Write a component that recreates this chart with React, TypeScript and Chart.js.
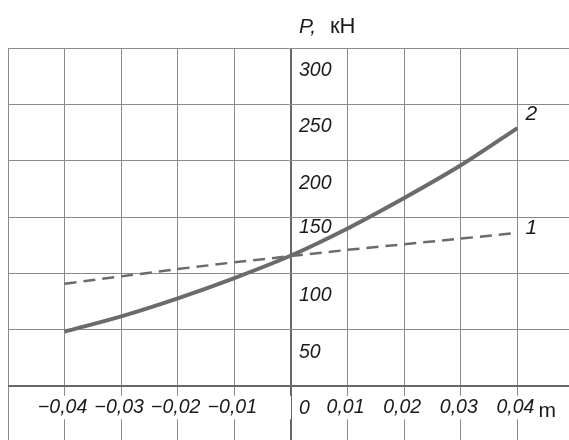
import React, { useEffect, useRef } from "react";
import { Chart, registerables } from "chart.js";

Chart.register(...registerables);

// ---- data ----
const xValues = [-0.04, -0.03, -0.02, -0.01, 0, 0.01, 0.02, 0.03, 0.04];
const series1 = [91, 97.5, 104, 110, 115.5, 121, 126, 131, 136];
const series2 = [48.5, 62, 78, 96, 116, 140, 167, 196, 229];
const seriesLabels = ["1", "2"];
const xTickValues = [-0.05, -0.04, -0.03, -0.02, -0.01, 0, 0.01, 0.02, 0.03, 0.04];
const xTickLabels = ["", "−0,04", "−0,03", "−0,02", "−0,01", "", "0,01", "0,02", "0,03", "0,04"];
const yTickValues = [0, 50, 100, 150, 200, 250, 300];
const yTickLabels: (string | string[])[] = ["0", "50", "100", ["150", ""], "200", "250", "300"];
const titleSymbol = "P,";
const titleUnit = "кН";
const xUnit = "m";

const FAMILY = '"Liberation Sans", Arial, sans-serif';
const TEXT = "#1a1a1a";
const GRID = "#8a8a8a";
const AXIS = "#676767";
const LINE = "#6b6b6b";
const TICK_SIZE = 19.5;

export default function App() {
  const ref = useRef<HTMLCanvasElement>(null);

  useEffect(() => {
    const canvas = ref.current;
    if (!canvas) return;

    const textPlugin = {
      id: "annotTexts",
      afterDraw(chart: any) {
        const ctx = chart.ctx;
        const xs = chart.scales.x;
        const ys = chart.scales.y;
        const x0 = xs.getPixelForValue(0);
        const y0 = ys.getPixelForValue(0);
        const top = chart.chartArea.top;
        ctx.save();
        ctx.fillStyle = TEXT;
        ctx.textAlign = "left";
        ctx.textBaseline = "alphabetic";
        ctx.font = `italic 21px ${FAMILY}`;
        ctx.fillText(titleSymbol, x0 + 8, top - 15);
        ctx.font = `22px ${FAMILY}`;
        ctx.fillText(titleUnit, x0 + 39, top - 15);
        ctx.font = `21px ${FAMILY}`;
        ctx.fillText(xUnit, xs.getPixelForValue(0.04) + 21, y0 + 31);
        ctx.font = `italic 21px ${FAMILY}`;
        ctx.textAlign = "center";
        ctx.textBaseline = "middle";
        const dys = [-5, -13.5];
        chart.data.datasets.forEach((_: any, i: number) => {
          const meta = chart.getDatasetMeta(i);
          const p = meta.data[meta.data.length - 1];
          ctx.fillText(seriesLabels[i], p.x + 14, p.y + dys[i]);
        });
        ctx.restore();
      },
    };

    const chart = new Chart(canvas, {
      type: "line",
      data: {
        datasets: [
          {
            label: seriesLabels[0],
            data: xValues.map((x, i) => ({ x, y: series1[i] })),
            borderColor: LINE,
            borderWidth: 2.5,
            borderDash: [12, 7],
            pointRadius: 0,
            tension: 0,
            fill: false,
          },
          {
            label: seriesLabels[1],
            data: xValues.map((x, i) => ({ x, y: series2[i] })),
            borderColor: LINE,
            borderWidth: 4,
            pointRadius: 0,
            cubicInterpolationMode: "monotone",
            fill: false,
          },
        ],
      },
      options: {
        animation: false,
        responsive: true,
        maintainAspectRatio: false,
        layout: { padding: { left: 8, right: 0, top: 48, bottom: 0 } },
        plugins: {
          legend: { display: false },
          tooltip: { enabled: false },
          title: { display: false },
        },
        scales: {
          x: {
            type: "linear",
            position: { y: 0 } as any,
            min: -0.05,
            max: 0.04912,
            afterBuildTicks: (s: any) => {
              s.ticks = xTickValues.map((v) => ({ value: v }));
            },
            afterFit: (s: any) => {
              s.paddingLeft = 0;
              s.paddingRight = 0;
            },
            grid: {
              drawTicks: false,
              color: (c: any) => (c.tick && c.tick.value === 0 ? AXIS : GRID),
              lineWidth: (c: any) => (c.tick && c.tick.value === 0 ? 2 : 1),
            },
            border: { display: false },
            ticks: {
              autoSkip: false,
              maxRotation: 0,
              padding: 9.5,
              labelOffset: -2,
              color: TEXT,
              font: { family: FAMILY, size: TICK_SIZE, style: "italic" },
              showLabelBackdrop: true,
              backdropColor: "#ffffff",
              backdropPadding: { x: 2, y: 0 },
              callback: (_v: any, i: number) => xTickLabels[i],
            },
          },
          y: {
            type: "linear",
            position: "left",
            min: -47.6,
            max: 300,
            afterBuildTicks: (s: any) => {
              s.ticks = yTickValues.map((v) => ({ value: v }));
            },
            afterFit: (s: any) => {
              s.width = 0;
              s.paddingTop = 0;
              s.paddingBottom = 0;
            },
            grid: {
              drawTicks: false,
              color: (c: any) => (c.tick && c.tick.value === 0 ? AXIS : GRID),
              lineWidth: (c: any) => (c.tick && c.tick.value === 0 ? 2 : 1),
            },
            border: { display: false },
            ticks: {
              mirror: true,
              padding: 291,
              labelOffset: 22.5,
              color: TEXT,
              font: { family: FAMILY, size: TICK_SIZE, style: "italic" },
              callback: (_v: any, i: number) => yTickLabels[i],
            },
          },
        },
      },
      plugins: [textPlugin],
    });

    return () => chart.destroy();
  }, []);

  return (
    <div
      style={{
        position: "fixed",
        left: 0,
        top: 0,
        width: 569,
        height: 440,
        background: "#ffffff",
      }}
    >
      <canvas ref={ref} />
    </div>
  );
}
